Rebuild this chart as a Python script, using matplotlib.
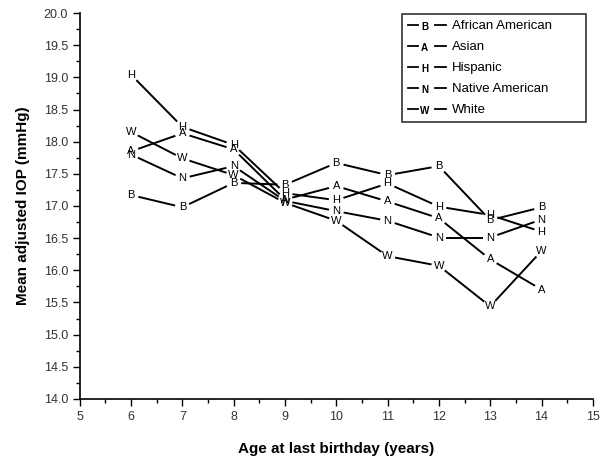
import numpy as np
import matplotlib
matplotlib.use('Agg')
import matplotlib.pyplot as plt
from matplotlib.lines import Line2D
from matplotlib.text import Text
from matplotlib.legend_handler import HandlerBase
from matplotlib.ticker import MultipleLocator, FormatStrFormatter

plt.rcParams['font.family'] = ['Liberation Sans', 'DejaVu Sans']

# 数据
ages = [6, 7, 8, 9, 10, 11, 12, 13, 14]
african_american = [17.17, 16.98, 17.36, 17.33, 17.67, 17.48, 17.62, 16.78, 16.98]
asian = [17.85, 18.13, 17.88, 17.10, 17.31, 17.07, 16.81, 16.17, 15.70]
hispanic = [19.04, 18.23, 17.95, 17.20, 17.09, 17.35, 16.99, 16.86, 16.60]
native_american = [17.80, 17.43, 17.62, 17.08, 16.92, 16.77, 16.51, 16.51, 16.79]
white = [18.15, 17.74, 17.48, 17.05, 16.77, 16.22, 16.07, 15.44, 16.30]

series = [
    ('B', 'African American', african_american),
    ('A', 'Asian', asian),
    ('H', 'Hispanic', hispanic),
    ('N', 'Native American', native_american),
    ('W', 'White', white),
]


class LetterKey:
    def __init__(self, letter):
        self.letter = letter


class LetterHandler(HandlerBase):
    """图例符号：线 - 字母 - 线"""
    def create_artists(self, legend, orig_handle, xdescent, ydescent,
                       width, height, fontsize, trans):
        x0 = -xdescent
        y = height / 2 - ydescent
        l1 = Line2D([x0, x0 + width * 0.27], [y, y], color='black', lw=1.3,
                    transform=trans)
        l2 = Line2D([x0 + width * 0.70, x0 + width], [y, y], color='black',
                    lw=1.3, transform=trans)
        t = Text(x0 + width * 0.44, y - 1.5, orig_handle.letter, ha='center',
                 va='center', fontsize=fontsize * 0.75, fontweight='bold',
                 transform=trans)
        return [l1, l2, t]


fig = plt.figure(figsize=(6, 4.65), dpi=100)
ax = fig.add_axes([0.133, 0.142, 0.855, 0.830])
ax.set_xlim(5, 15)
ax.set_ylim(14, 20)

gap = 7.5  # 线段两端留白（像素）
fig.canvas.draw()
for letter, label, vals in series:
    pts = ax.transData.transform(np.column_stack([ages, vals]))
    for p0, p1 in zip(pts[:-1], pts[1:]):
        d = p1 - p0
        n = np.hypot(*d)
        if n <= 2 * gap:
            continue
        u = d / n
        seg = ax.transData.inverted().transform([p0 + u * gap, p1 - u * gap])
        ax.plot(seg[:, 0], seg[:, 1], color='black', lw=1.4, solid_capstyle='butt')
    for x, y in zip(ages, vals):
        ax.text(x, y, letter, ha='center', va='center', fontsize=8,
                color='black')

# 图例（Origin 风格，右侧留白）
keys = [LetterKey(s[0]) for s in series]
leg = ax.legend(keys, [s[1] for s in series],
                handler_map={LetterKey: LetterHandler()},
                loc='upper left', bbox_to_anchor=(0.628, 0.0, 0.358, 0.997),
                mode='expand',
                frameon=True, fancybox=False, edgecolor='black',
                fontsize=9.5, handlelength=2.9, labelspacing=0.66,
                borderpad=0.45, handletextpad=0.45, borderaxespad=0.0)
leg.get_frame().set_linewidth(1.2)

ax.spines['top'].set_visible(False)
ax.spines['right'].set_visible(False)
ax.spines['left'].set_linewidth(1.2)
ax.spines['bottom'].set_linewidth(1.2)

ax.xaxis.set_major_locator(MultipleLocator(1))
ax.xaxis.set_minor_locator(MultipleLocator(0.5))
ax.yaxis.set_major_locator(MultipleLocator(0.5))
ax.yaxis.set_minor_locator(MultipleLocator(0.25))
ax.yaxis.set_major_formatter(FormatStrFormatter('%.1f'))
ax.tick_params(which='major', direction='out', length=5, width=1, labelsize=9,
               color='black', labelcolor='#333333')
ax.tick_params(which='minor', direction='out', length=3, width=1)

ax.set_xlabel('Age at last birthday (years)', fontsize=11, fontweight='bold',
              labelpad=14)
ax.set_ylabel('Mean adjusted IOP (mmHg)', fontsize=11, fontweight='bold',
              labelpad=10)

fig.savefig('out.png', dpi=100)
